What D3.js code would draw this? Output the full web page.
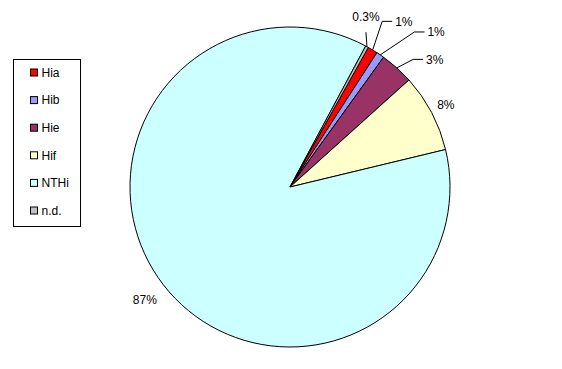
<!DOCTYPE html>
<html>
<head>
<meta charset="utf-8">
<script src="https://cdn.jsdelivr.net/npm/d3@7"></script>
<style>
  body { margin: 0; background: #fff; }
  text { font-family: Arial, "Liberation Sans", sans-serif; font-size: 12px; fill: #000; }
</style>
</head>
<body>
<div id="container"></div>
<script>
// data
var categories = ["Hia", "Hib", "Hie", "Hif", "NTHi", "n.d."];
var values = [1.0, 0.8, 3.4, 7.9, 86.6, 0.3];
var labels = ["1%", "1%", "3%", "8%", "87%", "0.3%"];
var colors = ["#ff0000", "#9999ff", "#993366", "#ffffcc", "#ccffff", "#c0c0c0"];

var width = 562, height = 369;
var centre = [290, 187];
var radius = 160;
var deg = Math.PI / 180;

// label placement (angle in degrees clockwise from 12 o'clock, distance from centre)
var labelLayout = {
  "Hia": { angle: 34.5, dist: 201, leader: "side" },
  "Hib": { angle: 43.3, dist: 213, leader: "side" },
  "Hie": { angle: 48.6, dist: 193, leader: "side" },
  "Hif": { angle: 62.3, dist: 176, leader: "none" },
  "NTHi": { angle: 232.1, dist: 184, leader: "none" },
  "n.d.": { angle: 24.1, dist: 186, leader: "below" }
};

var svg = d3.select("#container")
  .append("svg")
    .attr("width", width)
    .attr("height", height);

var data = categories.map(function(c, i) {
  return { name: c, value: values[i], label: labels[i], color: colors[i] };
});

var pie = d3.pie()
  .sort(null)
  .value(function(d) { return d.value; })
  .startAngle(29.3 * deg)
  .endAngle(29.3 * deg + 2 * Math.PI);

var arc = d3.arc()
  .innerRadius(0)
  .outerRadius(radius);

var pieGroup = svg.append("g")
  .attr("transform", "translate(" + centre[0] + "," + centre[1] + ")");

var arcs = pie(data);

pieGroup.selectAll(".slice")
  .data(arcs)
  .enter().append("path")
    .classed("slice", true)
    .attr("d", arc)
    .attr("fill", function(d) { return d.data.color; })
    .attr("stroke", "#000")
    .attr("stroke-width", 1)
    .attr("stroke-linejoin", "round");

function polar(a, r) {
  return [r * Math.sin(a), -r * Math.cos(a)];
}

// labels and leader lines
arcs.forEach(function(d) {
  var lay = labelLayout[d.data.name];
  var p = polar(lay.angle * deg, lay.dist);
  var t = pieGroup.append("text")
    .attr("x", p[0])
    .attr("y", p[1])
    .attr("dy", "0.35em")
    .attr("text-anchor", "middle")
    .text(d.data.label);
  var w = t.node().getComputedTextLength();
  var mid = (d.startAngle + d.endAngle) / 2;
  var start = polar(mid, radius);
  var pts;
  if (lay.leader == "side") {
    var endX = p[0] - w / 2 - 3;
    pts = [start, [endX - 10, p[1]], [endX, p[1]]];
  } else if (lay.leader == "below") {
    pts = [start, [p[0], p[1] + 15]];
  } else {
    return;
  }
  pieGroup.append("path")
    .attr("d", d3.line()(pts))
    .attr("fill", "none")
    .attr("stroke", "#000")
    .attr("stroke-width", 1);
});

// legend
var legend = svg.append("g")
  .attr("transform", "translate(13.5,59.5)");

legend.append("rect")
  .attr("width", 67)
  .attr("height", 167)
  .attr("fill", "#fff")
  .attr("stroke", "#000")
  .attr("stroke-width", 1);

var rowY = d3.scalePoint()
  .domain(categories)
  .range([13, 151]);

var rows = legend.selectAll(".legendRow")
  .data(data)
  .enter().append("g")
    .classed("legendRow", true)
    .attr("transform", function(d) { return "translate(0," + rowY(d.name) + ")"; });

rows.append("rect")
  .attr("x", 17)
  .attr("y", -3.5)
  .attr("width", 7)
  .attr("height", 7)
  .attr("fill", function(d) { return d.color; })
  .attr("stroke", "#000")
  .attr("stroke-width", 1);

rows.append("text")
  .attr("x", 28)
  .attr("dy", "0.35em")
  .text(function(d) { return d.name; });
</script>
</body>
</html>
